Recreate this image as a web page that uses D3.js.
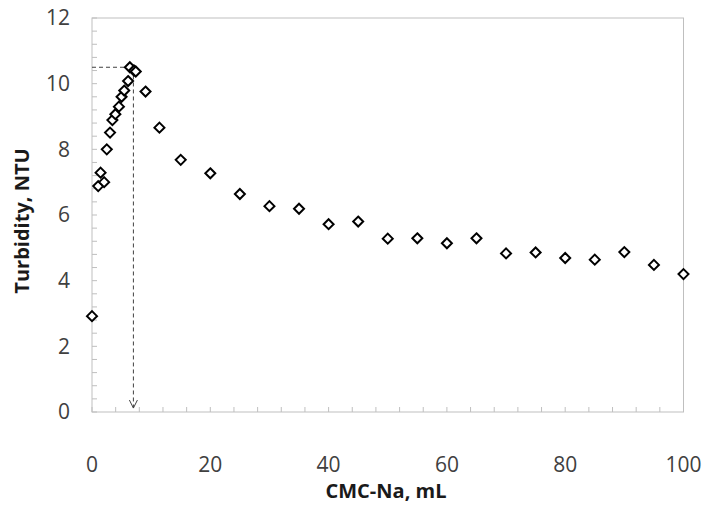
<!DOCTYPE html>
<html>
<head>
<meta charset="utf-8">
<script src="https://cdn.jsdelivr.net/npm/d3@7"></script>
<style>
  body { margin: 0; background: #fff; }
  text { font-family: "Open Sans", sans-serif; }
</style>
</head>
<body>
<svg id="chart" width="705" height="509"></svg>
<script>
// data
var volume = [0, 1.05, 1.45, 2.05, 2.5, 3.05, 3.45, 3.95, 4.55, 5.0, 5.45, 6.1, 6.4, 7.1, 7.4, 9.05, 11.4,
              15, 20, 25, 30, 35, 40, 45, 50, 55, 60, 65, 70, 75, 80, 85, 90, 95, 100];
var turbidity = [2.92, 6.88, 7.29, 7.0, 8.0, 8.51, 8.89, 9.07, 9.3, 9.6, 9.79, 10.08, 10.5, 10.4, 10.37, 9.76, 8.66,
                 7.68, 7.27, 6.64, 6.27, 6.19, 5.72, 5.8, 5.28, 5.29, 5.14, 5.29, 4.83, 4.86, 4.69, 4.64, 4.87, 4.48, 4.2];
var xTicks = [0, 20, 40, 60, 80, 100];
var yTicks = [0, 2, 4, 6, 8, 10, 12];
var peakVolume = 7, peakTurbidity = 10.5;

var svg = d3.select("#chart");
var margin = {left: 92, right: 21.5, top: 18, bottom: 97};
var width = 705 - margin.left - margin.right,
    height = 509 - margin.top - margin.bottom;

var x = d3.scaleLinear().domain([0, 100]).range([0, width]);
var y = d3.scaleLinear().domain([0, 12]).range([height, 0]);

var g = svg.append("g")
    .attr("transform", "translate(" + margin.left + "," + margin.top + ")");

var axisColor = "#bfbfbf";

// box (top + right)
g.append("rect")
    .attr("width", width)
    .attr("height", height)
    .attr("fill", "none")
    .attr("stroke", axisColor)
    .attr("stroke-width", 1);

// minor ticks, pointing inward
g.selectAll(".ytick")
    .data(d3.range(0, 12.01, 0.4))
    .enter().append("line")
    .attr("x1", 0).attr("x2", 5)
    .attr("y1", function(d) { return y(d); })
    .attr("y2", function(d) { return y(d); })
    .attr("stroke", axisColor);

g.selectAll(".xtick")
    .data(d3.range(0, 100.01, 4))
    .enter().append("line")
    .attr("x1", function(d) { return x(d); })
    .attr("x2", function(d) { return x(d); })
    .attr("y1", height).attr("y2", height - 5)
    .attr("stroke", axisColor);

// tick labels
g.selectAll(".ylab")
    .data(yTicks)
    .enter().append("text")
    .attr("x", -22)
    .attr("y", function(d) { return y(d); })
    .attr("dy", "0.35em")
    .attr("text-anchor", "end")
    .attr("font-size", 21)
    .attr("fill", "#404040")
    .text(function(d) { return d; });

g.selectAll(".xlab")
    .data(xTicks)
    .enter().append("text")
    .attr("x", function(d) { return x(d); })
    .attr("y", height + 53)
    .attr("dy", "0.35em")
    .attr("text-anchor", "middle")
    .attr("font-size", 21)
    .attr("fill", "#404040")
    .text(function(d) { return d; });

// axis titles
svg.append("text")
    .attr("x", 386)
    .attr("y", 498)
    .attr("text-anchor", "middle")
    .attr("font-size", 20)
    .attr("font-weight", "bold")
    .attr("fill", "#1a1a1a")
    .text("CMC-Na, mL");

svg.append("text")
    .attr("transform", "translate(29,221) rotate(-90)")
    .attr("text-anchor", "middle")
    .attr("font-size", 20)
    .attr("font-weight", "bold")
    .attr("fill", "#1a1a1a")
    .text("Turbidity, NTU");

// peak annotation
g.append("line")
    .attr("x1", x(0)).attr("x2", x(6.1))
    .attr("y1", y(peakTurbidity)).attr("y2", y(peakTurbidity))
    .attr("stroke", "#404040")
    .attr("stroke-dasharray", "4,3");

g.append("line")
    .attr("x1", x(peakVolume)).attr("x2", x(peakVolume))
    .attr("y1", y(10.25)).attr("y2", y(0.12))
    .attr("stroke", "#404040")
    .attr("stroke-dasharray", "4,3");

g.append("path")
    .attr("d", "M" + (x(peakVolume) - 4) + "," + (y(0.12) - 8) +
               "L" + x(peakVolume) + "," + y(0.12) +
               "L" + (x(peakVolume) + 4) + "," + (y(0.12) - 8))
    .attr("fill", "none")
    .attr("stroke", "#404040")
    .attr("stroke-width", 1);

// diamonds
var points = volume.map(function(v, i) { return [v, turbidity[i]]; });
g.selectAll(".pt")
    .data(points)
    .enter().append("path")
    .attr("transform", function(d) { return "translate(" + x(d[0]) + "," + y(d[1]) + ")"; })
    .attr("d", "M0,-5L5,0L0,5L-5,0Z")
    .attr("fill", "white")
    .attr("stroke", "#000")
    .attr("stroke-width", 2);
</script>
</body>
</html>
